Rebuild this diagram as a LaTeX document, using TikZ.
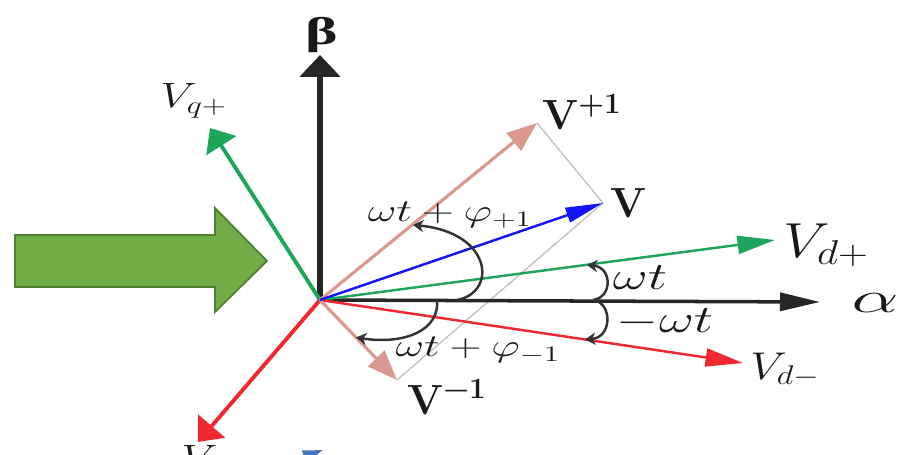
\RequirePackage{fix-cm}
\documentclass[tikz,border=0pt]{standalone}
\usepackage{amsmath}
\usepackage{fontspec}
\usetikzlibrary{arrows.meta}
\newfontfamily\timesfont{Liberation Serif}
\definecolor{vecgreen}{RGB}{30,165,90}
\definecolor{vecred}{RGB}{240,40,50}
\definecolor{vecpink}{RGB}{218,152,142}
\definecolor{vecblue}{RGB}{20,20,250}
\definecolor{guide}{RGB}{195,195,195}
\definecolor{arrowfill}{RGB}{112,173,71}
\definecolor{arrowedge}{RGB}{80,126,50}
\definecolor{cutblue}{RGB}{70,115,185}

\begin{document}
\begin{tikzpicture}[
  lbl/.style={inner sep=0pt, text=black!90, font=\fontsize{22}{26}\selectfont},
  vec/.style={line width=1.4pt},
  tiph/.style={-{Triangle[length=0.75cm,width=0.36cm]}},
  tipd/.style={-{Triangle[length=0.6cm,width=0.45cm]}},
  tipv/.style={-{Triangle[length=0.42cm,width=0.7cm]}},
  turn/.style={line width=1.4pt, black!80, -{Stealth[length=6pt,width=7pt]}},
  guideline/.style={guide, line width=0.8pt}
]
  \useasboundingbox (-6.4,-3.1) rectangle (11.8,6.0);

  % Origin and tips
  \coordinate (O) at (0,0);
  \coordinate (beta) at (0,4.9);
  \coordinate (alpha) at (10.0,-0.04);
  \coordinate (vqp) at (-2.2,3.44);
  \coordinate (vqm) at (-2.44,-2.84);
  \coordinate (vdp) at (9.1,1.2);
  \coordinate (vdm) at (8.46,-1.26);
  \coordinate (vpos) at (4.34,3.54);
  \coordinate (vneg) at (1.54,-1.6);
  \coordinate (vsum) at (5.66,1.94);

  % Guide lines
  \draw[guideline] (vpos) -- (vsum) -- (vneg);

  % Axes
  \draw[line width=2pt, black!85, -{Triangle[length=0.8cm,width=0.36cm]}] (O) -- (alpha);
  \draw[line width=3pt, black!85, -{Triangle[length=0.44cm,width=0.8cm]}] (O) -- (beta);
  \node[lbl, xscale=1.6] (betalbl) at (0.04,5.3) {\timesfont\bfseries β};
  \node[lbl, font=\fontsize{25}{29}\selectfont, xscale=1.7] (alphalbl) at (11.1,-0.06) {$\alpha$};

  % q axis vectors
  \draw[vec, vecgreen, line width=2.2pt, tipv] (O) -- (vqp);
  \draw[vec, vecred, line width=2.2pt, tipv] (O) -- (vqm);
  \node[lbl, font=\fontsize{20}{24}\selectfont, xscale=1.3] (vqplbl) at (-2.52,3.98) {$V_{q+}$};
  \node[lbl, font=\fontsize{20}{24}\selectfont, xscale=1.3, anchor=north west] (vqmlbl) at (-2.78,-2.9) {$V_{q-}$};

  % d axis vectors
  \draw[vec, vecgreen, tiph] (O) -- (vdp);
  \draw[vec, vecred, tiph] (O) -- (vdm);
  \node[lbl, font=\fontsize{28}{32}\selectfont, xscale=1.2, anchor=west] (vdplbl) at (9.26,1.1) {$V_{d+}$};
  \node[lbl, xscale=1.2, anchor=west] (vdmlbl) at (8.6,-1.4) {$V_{d-}$};

  % Sequence vectors
  \draw[vec, vecpink, line width=1.8pt, tipd] (O) -- (vpos);
  \draw[vec, vecpink, line width=1.8pt, tipd] (O) -- (vneg);
  \draw[vec, vecblue, -{Triangle[length=0.75cm,width=0.3cm]}] (O) -- (vsum);
  \node[lbl, font=\fontsize{24}{28}\selectfont\bfseries] (vposlbl) at (5.24,3.76) {V\textsuperscript{+1}};
  \node[lbl, font=\fontsize{24}{28}\selectfont\bfseries] (vneglbl) at (2.54,-1.94) {V\textsuperscript{−1}};
  \node[lbl, font=\fontsize{24}{28}\selectfont\bfseries] (vsumlbl) at (6.16,1.94) {V};

  % Angles
  \coordinate (p1s) at (2.74,0);
  \coordinate (p1e) at (1.86,1.5);
  \coordinate (m1s) at (2.34,0);
  \coordinate (m1e) at (0.72,-0.75);
  \coordinate (wts) at (5.46,0);
  \coordinate (wte) at (5.34,0.7);
  \coordinate (mwte) at (5.3,-0.79);
  \draw[turn] (p1s) .. controls (3.55,0.15) and (3.45,1.35) .. (p1e);
  \draw[turn] (m1s) .. controls (2.4,-0.6) and (1.7,-0.9) .. (m1e);
  \draw[turn] (wts) .. controls (5.85,0.05) and (5.85,0.65) .. (wte);
  \draw[turn] (wts) .. controls (5.85,-0.05) and (5.85,-0.75) .. (mwte);
  \node[lbl, font=\fontsize{18}{22}\selectfont, xscale=1.4] (phiplbl) at (2.6,1.7) {$\omega t+\varphi_{+1}$};
  \node[lbl, font=\fontsize{18}{22}\selectfont, xscale=1.4] (phimlbl) at (3.16,-1.0) {$\omega t+\varphi_{-1}$};
  \node[lbl, xscale=1.4] (wtlbl) at (6.4,0.44) {$\omega t$};
  \node[lbl, xscale=1.4] (mwtlbl) at (6.9,-0.44) {$-\omega t$};

  % Block arrow
  \draw[fill=arrowfill, draw=arrowedge, line width=1pt] (-6.1,0.26) -- (-2.1,0.26) -- (-2.1,-0.24) -- (-1.06,0.78) -- (-2.1,1.84) -- (-2.1,1.3) -- (-6.1,1.3) -- cycle;

  % Cut blue arrow
  \coordinate (cuta) at (-0.94,-3.36);
  \coordinate (cutb) at (0.06,-3.0);
  \draw[cutblue, line width=2pt, -{Triangle[length=0.4cm,width=0.25cm]}] (cuta) -- (cutb);
\end{tikzpicture}
\end{document}
